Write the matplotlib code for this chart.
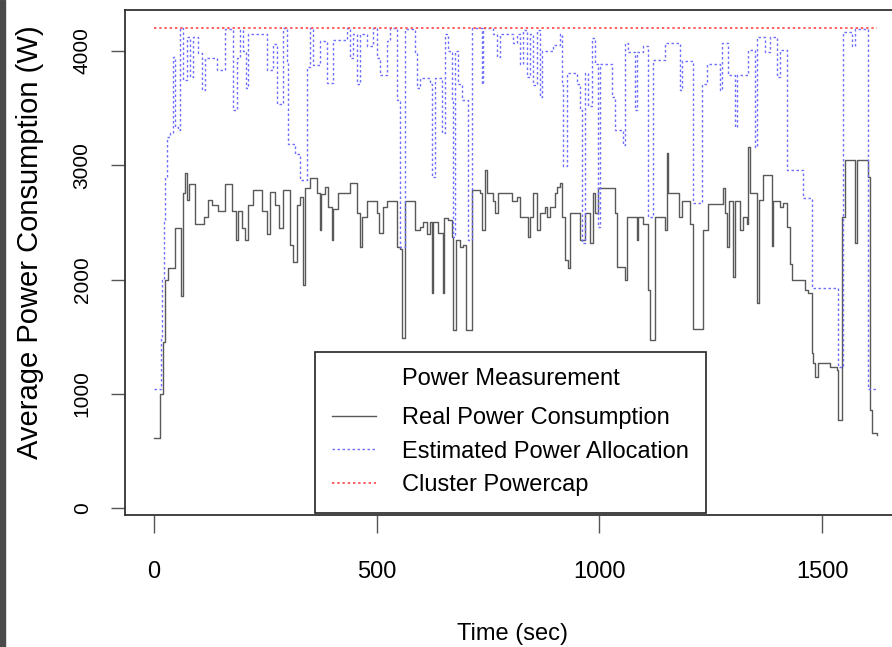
import matplotlib
matplotlib.use("Agg")
import matplotlib.pyplot as plt
from matplotlib.patches import Rectangle

plt.rcParams["font.family"] = ["Liberation Sans", "DejaVu Sans"]

# Real power consumption (time in sec, watts), step changes
real_t = [0, 13, 20, 25, 31, 47, 61, 65, 70, 74, 79, 92, 112, 121, 130, 144, 159, 175, 184, 189,
          198, 204, 211, 222, 243, 254, 261, 272, 281, 290, 305, 312, 321, 328, 335, 339, 350, 366,
          373, 375, 384, 391, 400, 402, 413, 440, 456, 463, 466, 478, 501, 505, 514, 523, 546, 553,
          557, 564, 586, 597, 604, 613, 620, 624, 627, 638, 649, 651, 660, 669, 672, 678, 687, 694,
          701, 714, 732, 737, 743, 748, 761, 766, 773, 804, 815, 822, 840, 845, 851, 860, 867, 878,
          883, 889, 901, 905, 912, 916, 923, 930, 934, 957, 968, 979, 986, 991, 997, 1035, 1040,
          1058, 1062, 1085, 1087, 1098, 1110, 1114, 1125, 1148, 1152, 1155, 1179, 1186, 1204, 1211,
          1233, 1244, 1278, 1282, 1287, 1291, 1300, 1305, 1316, 1323, 1332, 1334, 1338, 1354, 1359,
          1368, 1388, 1390, 1406, 1413, 1422, 1428, 1433, 1462, 1469, 1478, 1480, 1485, 1491, 1518,
          1534, 1536, 1545, 1552, 1574, 1579, 1604, 1608, 1613, 1624]
real_w = [610, 1000, 1450, 2000, 2100, 2450, 1860, 2760, 2930, 2700, 2840, 2490, 2550, 2700, 2650,
          2600, 2840, 2600, 2350, 2600, 2450, 2350, 2650, 2780, 2600, 2400, 2770, 2650, 2450, 2780,
          2300, 2150, 2650, 2720, 1950, 2800, 2890, 2757, 2433, 2750, 2810, 2635, 2345, 2620, 2757,
          2845, 2580, 2285, 2550, 2690, 2580, 2405, 2635, 2690, 2285, 2270, 1490, 2690, 2433, 2460,
          2500, 2400, 2500, 1880, 2500, 2405, 1880, 2540, 2520, 2375, 1560, 2350, 2285, 2300, 1560,
          2780, 2757, 2433, 2960, 2757, 2690, 2580, 2757, 2690, 2720, 2550, 2375, 2550, 2757, 2433,
          2580, 2635, 2550, 2635, 2757, 2810, 2845, 2550, 2170, 2100, 2580, 2345, 2580, 2320, 2757,
          2580, 2800, 2580, 2110, 2000, 2550, 2345, 2550, 2490, 1910, 1470, 2550, 2433, 3105, 2757,
          2550, 2690, 2490, 1570, 2433, 2660, 2800, 2580, 2285, 2690, 2020, 2690, 2433, 2550, 2490,
          3160, 2757, 1790, 2700, 2915, 2290, 2690, 2635, 2670, 2460, 2140, 2000, 1910, 1880, 1360,
          1270, 1150, 1270, 1230, 1210, 770, 2545, 3045, 2320, 3045, 2900, 860, 660, 640]

# Estimated power allocation
alloc_t = [0, 13, 16, 19, 22, 25, 29, 36, 43, 47, 54, 58, 65, 74, 81, 88, 99, 108, 115, 142, 159,
           177, 186, 193, 200, 207, 211, 254, 267, 276, 290, 299, 301, 317, 328, 344, 350, 357, 373,
           389, 402, 433, 440, 447, 456, 463, 478, 492, 501, 508, 523, 530, 546, 553, 564, 586, 591,
           597, 620, 624, 631, 647, 654, 660, 669, 672, 676, 683, 692, 705, 714, 737, 739, 761, 770,
           777, 806, 815, 822, 829, 838, 845, 851, 860, 867, 871, 896, 912, 916, 919, 928, 950, 957,
           961, 968, 975, 984, 991, 997, 1002, 1029, 1035, 1053, 1058, 1065, 1080, 1085, 1098, 1110,
           1121, 1148, 1181, 1186, 1211, 1231, 1242, 1271, 1276, 1289, 1305, 1309, 1334, 1350, 1354,
           1372, 1384, 1399, 1406, 1422, 1458, 1478, 1536, 1548, 1568, 1574, 1604, 1624]
alloc_w = [1040, 1040, 1500, 2000, 2500, 2900, 3250, 3280, 3950, 3335, 3310, 4200, 3745, 4125, 3770,
           4125, 3980, 3660, 3940, 3835, 4190, 3480, 3940, 4180, 4000, 3675, 4150, 3835, 4065, 3540,
           4200, 3910, 3190, 3100, 2870, 3860, 4200, 3880, 4090, 3720, 4100, 4200, 3940, 4150, 3715,
           4150, 4040, 4200, 3940, 3790, 4090, 4200, 3570, 2285, 4190, 3980, 3675, 3765, 3715, 2900,
           3765, 3280, 4150, 4000, 3570, 2375, 4000, 3715, 3570, 2345, 4200, 3715, 4200, 4150, 3950,
           4150, 4070, 4150, 3890, 4180, 3775, 4150, 3700, 4180, 3600, 4000, 4050, 4150, 3700, 2990,
           3810, 3715, 3480, 2320, 3810, 3515, 4115, 3890, 2460, 3890, 3600, 3310, 3180, 4070, 3990,
           3480, 3990, 4040, 2550, 3920, 4070, 3660, 3910, 2670, 3715, 3890, 3660, 4070, 3790, 3335,
           3790, 4010, 3160, 4125, 3990, 4125, 3775, 4010, 2960, 2710, 1925, 1235, 4170, 4040, 4190,
           1040, 1040]

# Cluster powercap
cap_t = [0, 1624]
cap_w = [4200, 4200]

fig = plt.figure(figsize=(8.92, 6.47), dpi=100)
ax = fig.add_axes([125 / 892, 132 / 647, 775 / 892, 505.5 / 647])

ax.plot(real_t, real_w, drawstyle="steps-post", color="#595959", lw=1.0,
        label="Real Power Consumption")
ax.plot(alloc_t, alloc_w, drawstyle="steps-post", color="#6e6eff", lw=1.0,
        linestyle=(0, (1.8, 1.8)), label="Estimated Power Allocation")
ax.plot(cap_t, cap_w, color="#ff5252", lw=1.3, linestyle=(0, (1.3, 1.6)),
        label="Cluster Powercap")

ax.set_xlim(-65, 1675)
ax.set_ylim(-61, 4363)
ax.set_xticks([0, 500, 1000, 1500])
ax.set_yticks([0, 1000, 2000, 3000, 4000])

for s in ["left", "bottom", "top"]:
    ax.spines[s].set_color("#333333")
    ax.spines[s].set_linewidth(1.3)
ax.spines["right"].set_visible(False)

ax.tick_params(axis="x", length=13, width=1, color="#555555", pad=20, labelsize=17)
ax.tick_params(axis="y", length=10, width=1, color="#555555", pad=14, labelsize=15)
for lab in ax.get_yticklabels():
    lab.set_rotation(90)
    lab.set_va("center")

ax.set_xlabel("Time (sec)", fontsize=17)
ax.set_ylabel("Average Power Consumption (W)", fontsize=21)
ax.xaxis.set_label_coords(0.5, -0.213)
ax.yaxis.set_label_coords(-0.105, 0.54)

leg = ax.legend(title="Power Measurement", loc="lower left",
                bbox_to_anchor=((315 - 125) / 775, 0.004), borderaxespad=0,
                fontsize=17, title_fontsize=17, fancybox=False, framealpha=1,
                edgecolor="#222222", borderpad=0.7, labelspacing=0.5,
                handlelength=1.9, handletextpad=1.1)
leg.get_frame().set_linewidth(1.2)
leg._legend_box.sep = 12  # wider gap under the legend title

# dark edge strip on the left of the screenshot
fig.patches.append(Rectangle((0, 0), 5 / 892, 1, transform=fig.transFigure,
                             color="#4a4a4a", zorder=0))

fig.savefig("out.png", dpi=100)
